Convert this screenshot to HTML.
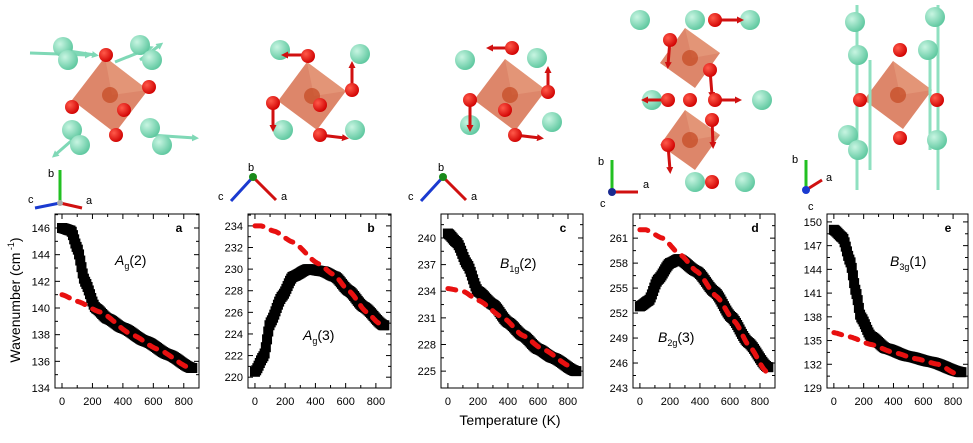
<!DOCTYPE html>
<html><head><meta charset="utf-8"><style>
html,body{margin:0;padding:0;background:#fff}
svg{display:block}
text{font-family:"Liberation Sans",Arial,sans-serif}
</style></head><body>
<svg id="s" width="973" height="443" viewBox="0 0 973 443" xmlns="http://www.w3.org/2000/svg">
<defs>
<radialGradient id="gg" cx="35%" cy="35%" r="70%"><stop offset="0" stop-color="#c8f5e2"/><stop offset="1" stop-color="#5cc79e"/></radialGradient>
<radialGradient id="rg" cx="35%" cy="35%" r="70%"><stop offset="0" stop-color="#ff5a4a"/><stop offset="1" stop-color="#d00000"/></radialGradient>
<marker id="ar" markerUnits="userSpaceOnUse" markerWidth="7" markerHeight="7" refX="3" refY="3.5" orient="auto"><path d="M0,0 L7,3.5 L0,7z" fill="#d01010"/></marker>
<marker id="ag" markerUnits="userSpaceOnUse" markerWidth="7" markerHeight="7" refX="3" refY="3.5" orient="auto"><path d="M0,0 L7,3.5 L0,7z" fill="#7fd8b6"/></marker>
</defs>
<g id="g"></g>
<text x="510" y="425" font-size="14" text-anchor="middle">Temperature (K)</text>
<text transform="translate(20,300) rotate(-90)" font-size="14" text-anchor="middle">Wavenumber (cm<tspan dy="-6" font-size="9"> -1</tspan><tspan dy="6">)</tspan></text>
</svg>
<script>
const NS="http://www.w3.org/2000/svg",G=document.getElementById('g');
function el(t,a,txt){const e=document.createElementNS(NS,t);for(const k in a)e.setAttribute(k,a[k]);if(txt!==undefined)e.textContent=txt;G.appendChild(e);return e;}
function interp(pts,x){for(let i=0;i<pts.length-1;i++){const[a,b]=pts[i],[c,d]=pts[i+1];if(x>=a&&x<=c){const t=(x-a)/(c-a);const s=t*t*(3-2*t);return b+(d-b)*(0.5*t+0.5*s);}}return pts[pts.length-1][1];}
const panels=[
{L:55,R:199,top:147.05,bot:134,ticks:[134,136,138,140,142,144,146],lab:'a',
 bk:[[0,146],[60,145.8],[100,144.5],[150,142],[220,140],[300,139.2],[400,138.5],[550,137.5],[700,136.5],[850,135.5]],
 rd:[[0,141],[100,140.5],[250,139.7],[460,138],[630,136.9],[840,135.5]],name:['A','g','(2)'],nx:115,ny:265},
{L:248,R:391,top:235.1,bot:219,ticks:[220,222,224,226,228,230,232,234],lab:'b',
 bk:[[0,220.5],[60,222],[100,225],[180,227.5],[250,229.3],[350,230],[450,229.8],[530,229.3],[620,228],[720,226.5],[850,224.8]],
 rd:[[0,234],[40,234],[130,233.5],[250,232.5],[420,230.5],[520,229.5],[620,228],[740,226],[820,225]],name:['A','g','(3)'],nx:303,ny:340},
{L:441,R:583,top:242.7,bot:223.1,ticks:[225,228,231,234,237,240],lab:'c',
 bk:[[0,240.5],[60,239.5],[130,237],[200,234],[300,232.5],[400,230.5],[500,229],[600,227.5],[700,226.5],[850,225]],
 rd:[[0,234.3],[100,234],[200,233],[370,231],[500,229],[630,227.5],[820,225.5]],name:['B','1g','(2)'],nx:500,ny:268},
{L:633,R:775,top:263.9,bot:243,ticks:[243,246,249,252,255,258,261],lab:'d',
 bk:[[0,252.8],[60,253.5],[120,256],[200,258],[260,258.5],[380,257],[500,254.5],[610,251.5],[720,248.5],[850,245.5]],
 rd:[[0,262],[40,262],[150,261],[270,259],[380,257],[510,254],[630,251],[730,248],[840,245]],name:['B','2g','(3)'],nx:658,ny:342},
{L:827,R:968,top:151,bot:129,ticks:[129,132,135,138,141,144,147,150],lab:'e',
 bk:[[0,149],[60,148],[110,145],[150,141],[180,138],[250,135.5],[350,134],[500,133],[650,132.3],[850,131]],
 rd:[[0,136],[100,135.5],[250,134.5],[400,133.5],[550,132.7],[700,132],[820,130.8]],name:['B','3g','(1)'],nx:890,ny:266}
];
const T=214,B=388;
panels.forEach(p=>{
 const X=v=>p.L+(v+46)/946*(p.R-p.L), Y=v=>T+(p.top-v)/(p.top-p.bot)*(B-T);
 el('rect',{x:p.L,y:T,width:p.R-p.L,height:B-T,fill:'#fff',stroke:'#000','stroke-width':1});
 for(let v=0;v<=800;v+=100){const x=X(v);const l=v%200==0?5:3;
  el('line',{x1:x,y1:B,x2:x,y2:B-l,stroke:'#000'});el('line',{x1:x,y1:T,x2:x,y2:T+l,stroke:'#000'});
  if(v%200==0)el('text',{x:x,y:B+17,'font-size':11,'text-anchor':'middle'},v);}
 const st=p.ticks[1]-p.ticks[0];
 for(let v=p.ticks[0];v<=p.top;v+=st/2){const y=Y(v);if(y<T)continue;const maj=Math.abs(((v-p.ticks[0])/st)%1)<1e-6;const l=maj?5:3;
  el('line',{x1:p.L,y1:y,x2:p.L+l,y2:y,stroke:'#000'});el('line',{x1:p.R,y1:y,x2:p.R-l,y2:y,stroke:'#000'});}
 p.ticks.forEach(v=>el('text',{x:p.L-5,y:Y(v)+4,'font-size':11,'text-anchor':'end'},v));
 for(let t=0;t<=860;t+=8){const v=interp(p.bk,t);el('rect',{x:X(t)-5,y:Y(v)-5,width:10,height:10,fill:'#000'});}
 let d='';for(let t=p.rd[0][0];t<=p.rd[p.rd.length-1][0];t+=5){d+=(d?'L':'M')+X(t).toFixed(1)+','+Y(interp(p.rd,t)).toFixed(1);}
 el('path',{d:d,fill:'none',stroke:'#e81010','stroke-width':5,'stroke-dasharray':'8,9','stroke-linecap':'round'});
 el('text',{x:p.R-20,y:T+18,'font-size':12,'font-weight':'bold','text-anchor':'middle'},p.lab);
 const t=el('text',{x:p.nx,y:p.ny,'font-size':14});
 t.innerHTML='<tspan font-style="italic">'+p.name[0]+'</tspan><tspan dy="4" font-size="9">'+p.name[1]+'</tspan><tspan dy="-4">'+p.name[2]+'</tspan>';
});
function oct(cx,cy,s){el('polygon',{points:`${cx-s},${cy+5} ${cx-5},${cy-s} ${cx+s},${cy-5} ${cx+5},${cy+s}`,fill:'#d9795a',opacity:0.9});
 el('polygon',{points:`${cx-5},${cy-s} ${cx+s},${cy-5} ${cx+2},${cy}`,fill:'#e8a080',opacity:0.6});
 el('circle',{cx:cx,cy:cy,r:8,fill:'#c8502a',opacity:0.8});}
function gb(x,y,r){el('circle',{cx:x,cy:y,r:r||10,fill:'url(#gg)'});}
function rb(x,y){el('circle',{cx:x,cy:y,r:7,fill:'url(#rg)'});}
function rod(x1,y1,x2,y2,c){el('line',{x1,y1,x2,y2,stroke:c=='g'?'#7fd8b6':'#d01010','stroke-width':3,'marker-end':c=='g'?'url(#ag)':'url(#ar)'});}
oct(110,95,38);
[[62,50,95,55],[140,60,160,45],[78,135,55,155],[150,135,195,138]].forEach(r=>rod(r[0],r[1],r[2],r[3],'g'));
[[30,53,88,55],[115,62,150,48]].forEach(r=>rod(r[0],r[1],r[2],r[3],'g'));
gb(63,47);gb(68,60);gb(140,45);gb(152,60);gb(72,130);gb(80,145);gb(150,128);gb(162,145);
rb(106,55);rb(149,87);rb(72,107);rb(124,110);rb(116,135);
oct(312,96,34);
gb(280,50);gb(360,54);gb(283,130);gb(355,130);
rod(310,55,285,55,'r');rod(352,90,352,65,'r');rod(273,103,273,128,'r');rod(320,135,345,138,'r');
rb(308,56);rb(352,90);rb(273,103);rb(320,135);rb(320,105);
oct(510,95,36);
gb(465,60);gb(537,58);gb(470,125);gb(552,122);
rod(470,100,470,128,'r');rod(548,92,548,70,'r');rod(515,135,540,138,'r');rod(512,48,490,48,'r');
rb(512,48);rb(548,92);rb(470,100);rb(515,135);rb(505,110);
oct(690,58,30);oct(690,140,30);
gb(640,20);gb(695,20);gb(750,20);gb(652,100);gb(762,100);gb(695,182);gb(745,182);
rod(715,20,740,20,'r');rod(670,40,668,65,'r');rod(710,70,712,95,'r');rod(668,100,645,100,'r');rod(715,100,738,100,'r');rod(668,145,670,170,'r');rod(712,120,713,145,'r');
rb(715,20);rb(670,40);rb(710,70);rb(690,100);rb(668,100);rb(715,100);rb(668,145);rb(712,120);rb(712,182);
oct(898,95,34);
[[857,5,857,190],[938,5,938,190],[870,60,870,170],[930,50,930,150]].forEach(r=>{el('line',{x1:r[0],y1:r[1],x2:r[2],y2:r[3],stroke:'#8fe0c0','stroke-width':3});});
gb(855,22);gb(935,17);gb(858,55);gb(928,50);gb(848,135);gb(858,150);gb(937,140);
rb(900,50);rb(937,100);rb(860,100);rb(900,138);
function tri(ox,oy,arr){arr.forEach(a=>{el('line',{x1:ox,y1:oy,x2:a[0],y2:a[1],stroke:a[2],'stroke-width':3});el('text',{x:a[3],y:a[4],'font-size':11},a[5]);});el('circle',{cx:ox,cy:oy,r:3,fill:'#aaa'});}
tri(60,203,[[60,170,'#22c022',48,177,'b'],[35,208,'#1a3ad0',28,203,'c'],[82,208,'#d01010',86,204,'a']]);
tri(253,177,[[231,201,'#1a3ad0',218,200,'c'],[276,200,'#d01010',281,200,'a']]);el('circle',{cx:253,cy:177,r:4,fill:'#1a8a1a'});el('text',{x:248,y:171,'font-size':11},'b');
tri(443,177,[[421,201,'#1a3ad0',408,200,'c'],[466,200,'#d01010',471,200,'a']]);el('circle',{cx:443,cy:177,r:4,fill:'#1a8a1a'});el('text',{x:438,y:171,'font-size':11},'b');
tri(612,192,[[612,160,'#22c022',598,165,'b'],[638,192,'#d01010',643,188,'a']]);el('circle',{cx:612,cy:192,r:4,fill:'#1a2a90'});el('text',{x:600,y:207,'font-size':11},'c');
tri(806,190,[[806,160,'#22c022',792,163,'b'],[822,180,'#d01010',826,181,'a']]);el('circle',{cx:806,cy:190,r:4,fill:'#1a3ad0'});el('text',{x:808,y:210,'font-size':11},'c');
</script>
</body></html>
